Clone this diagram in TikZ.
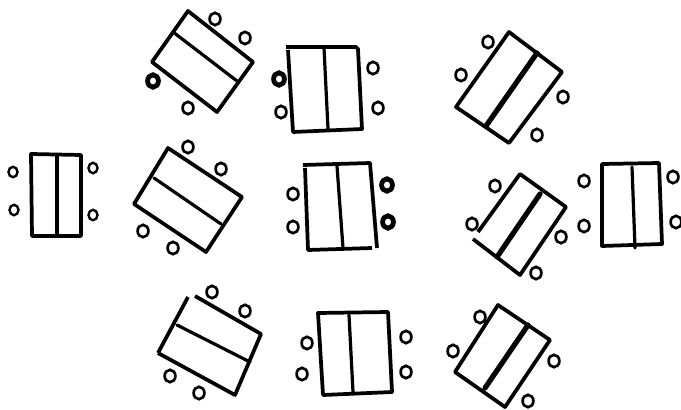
\documentclass[tikz,border=0pt]{standalone}
\tikzset{
  tbl/.style={draw=black,line width=2.8pt,line join=round},
  midline/.style={draw=black,line width=2.4pt,line cap=round},
  thickmid/.style={draw=black,line width=3.9pt,line cap=round},
  seat/.style={draw=black,line width=2pt,fill=white},
  darkseat/.style={draw=black,line width=3.6pt,fill=white},
  smallseat/.style={draw=black,line width=1.8pt,fill=white},
}
\newcommand{\seatat}[2][seat]{\draw[#1] #2 ellipse [x radius=5.4,y radius=6.2];}
\newcommand{\smallseatat}[1]{\draw[smallseat] #1 ellipse [x radius=4.5,y radius=5.2];}
\begin{document}
\begin{tikzpicture}[x=0.75pt,y=-0.75pt]
\useasboundingbox[fill=white] (0,0) rectangle (681,410);
% top row
\draw[tbl] (188,11) -- (253,62) -- (217,112) -- (152,62) -- cycle;
\draw[midline] (173,32) -- (237,81);
\seatat{(215,19)}\seatat{(245,38)}\seatat[darkseat]{(153,81)}\seatat{(188,108)}
\draw[tbl] (286,47) -- (356,47) -- (358,49) -- (362,129) -- (293,132) -- (288,50);
\draw[midline] (324,48) -- (328,129);
\seatat[darkseat]{(279,79)}\seatat{(281,112)}\seatat{(373,68)}\seatat{(378,108)}
\draw[tbl] (509,32) -- (562,72) -- (509,143) -- (456,107) -- cycle;
\draw[thickmid] (537,53) -- (486,126);
\seatat{(488,42)}\seatat{(461,75)}\seatat{(563,97)}\seatat{(537,135)}
% middle row
\draw[tbl] (31,154) -- (81,155) -- (81,236) -- (32,236) -- cycle;
\draw[midline] (57,155) -- (57,236);
\smallseatat{(13,172)}\smallseatat{(14,210)}\smallseatat{(93,168)}\smallseatat{(93,215)}
\draw[tbl] (168,148) -- (242,197) -- (206,252) -- (134,204) -- cycle;
\draw[midline] (154,178) -- (221,224);
\seatat{(188,147)}\seatat{(221,169)}\seatat{(143,231)}\seatat{(173,248)}
\draw[tbl] (303,165) -- (370,163) -- (377,248);
\draw[tbl] (305,168) -- (308,250) -- (372,248);
\draw[midline] (337,166) -- (343,248);
\seatat{(293,194)}\seatat{(293,227)}\seatat[darkseat]{(387,185)}\seatat[darkseat]{(388,222)}
\draw[tbl] (478,232) -- (520,174) -- (566,207) -- (520,275) -- (473,239);
\draw[thickmid] (540,194) -- (497,257);
\seatat{(495,186)}\seatat{(472,224)}\seatat{(561,237)}\seatat{(536,273)}
\draw[tbl] (602,164) -- (659,163) -- (662,244) -- (602,246) -- cycle;
\draw[midline] (632,167) -- (635,248);
\seatat{(584,181)}\seatat{(584,226)}\seatat{(673,177)}\seatat{(676,222)}
% bottom row
\draw[tbl] (195,296) -- (261,334) -- (235,395) -- (158,353);
\draw[tbl] (188,297) -- (158,353);
\draw[midline] (177,325) -- (250,362);
\seatat{(212,292)}\seatat{(245,311)}\seatat{(170,376)}\seatat{(199,393)}
\draw[tbl] (318,313) -- (388,312) -- (392,392) -- (323,395) -- cycle;
\draw[midline] (349,315) -- (353,392);
\seatat{(307,343)}\seatat{(302,374)}\seatat{(406,337)}\seatat{(406,372)}
\draw[tbl] (498,305) -- (550,340) -- (505,407) -- (455,372) -- cycle;
\draw[thickmid] (528,325) -- (485,388);
\seatat{(480,317)}\seatat{(453,351)}\seatat{(554,361)}\seatat{(528,401)}
\end{tikzpicture}
\end{document}
